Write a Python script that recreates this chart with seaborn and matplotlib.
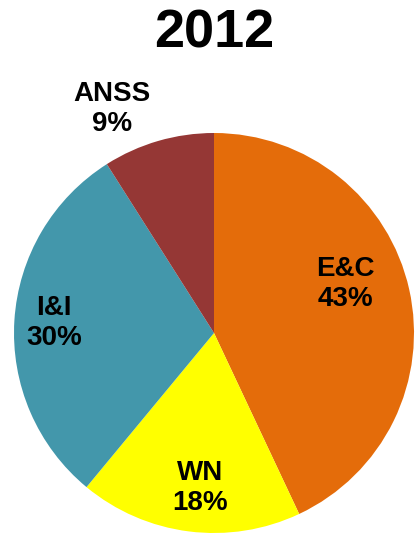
import numpy as np
import matplotlib
matplotlib.use("Agg")
import matplotlib.pyplot as plt
import seaborn as sns

# data
year = "2012"
segments = ["E&C", "WN", "I&I", "ANSS"]
shares = [43, 18, 30, 9]
colors = ["#E46C0A", "#FFFF00", "#4397AB", "#953735"]

# label placement (radius fraction, angle nudge in degrees)
label_dist = [0.70, 0.78, 0.80, 1.23]
label_nudge = [7.8, 2.2, 0.0, 8.2]

sns.set_style("white")
plt.rcParams["font.family"] = ["Liberation Sans", "DejaVu Sans"]
plt.rcParams["text.color"] = "black"

fig = plt.figure(figsize=(4.17, 5.35), dpi=100)
ax = fig.add_axes([14 / 417, 2 / 535, 400 / 417, 400 / 535])

wedges, _ = ax.pie(shares, colors=colors, startangle=90, counterclock=False,
                   radius=1.0, wedgeprops=dict(linewidth=0))
ax.set_xlim(-1, 1)
ax.set_ylim(-1, 1)
ax.set_aspect("equal")
ax.axis("off")

# labels around the middle angle of each wedge
for w, name, pct, d, nudge in zip(wedges, segments, shares, label_dist, label_nudge):
    ang = np.deg2rad((w.theta1 + w.theta2) / 2 + nudge)
    ax.text(d * np.cos(ang), d * np.sin(ang), f"{name}\n{pct}%",
            ha="center", va="center", fontsize=20, fontweight="bold",
            linespacing=1.2, color="black")

fig.text(214 / 417, 1 - 33 / 535, year, ha="center", va="center",
         fontsize=39, fontweight="bold", color="black")

fig.savefig("out.png", dpi=100, facecolor="white")
